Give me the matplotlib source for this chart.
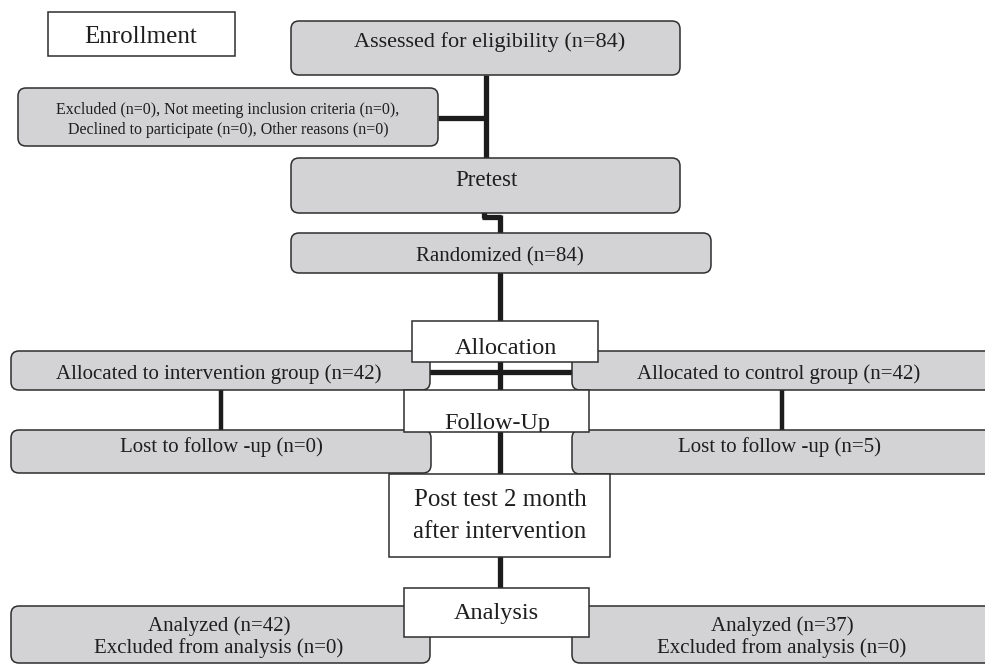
import matplotlib
matplotlib.use('Agg')
from matplotlib import pyplot as plt
from matplotlib.patches import FancyBboxPatch, Rectangle

# тексты блоков схемы
stage_labels = ['Enrollment', 'Allocation', 'Follow-Up', 'Analysis']
assessed_n = 84
randomized_n = 84
excluded_text = ['Excluded (n=0), Not meeting inclusion criteria (n=0),',
                 'Declined to participate (n=0), Other reasons (n=0)']
groups = ['intervention', 'control']
allocated_n = [42, 42]
lost_n = [0, 5]
analyzed_n = [42, 37]
excluded_analysis_n = [0, 0]
posttest_text = ['Post test 2 month', 'after intervention']

GREY = '#d3d3d5'
EDGE = '#2e2e2e'
TXT = '#1e1e1e'
LINE = '#1c1c1c'

plt.rcParams['font.family'] = ['Liberation Serif', 'DejaVu Serif']

fig = plt.figure(figsize=(9.85, 6.64), dpi=100)
ax = fig.add_axes([0, 0, 1, 1])
ax.set_xlim(0, 985)
ax.set_ylim(664, 0)
ax.axis('off')


def grey_box(x0, y0, x1, y1):
    p = FancyBboxPatch((x0, y0), x1 - x0, y1 - y0,
                       boxstyle='round,pad=0,rounding_size=8',
                       fc=GREY, ec=EDGE, lw=1.1, zorder=2)
    ax.add_patch(p)


def white_box(x0, y0, x1, y1):
    p = Rectangle((x0, y0), x1 - x0, y1 - y0, fc='white', ec=EDGE, lw=1.1, zorder=3)
    ax.add_patch(p)
    return p


def txt(x, y, s, size, z=4, **kw):
    kw.setdefault('va', 'center')
    return ax.text(x, y, s, ha='center', fontsize=size, color=TXT, zorder=z, **kw)


def vline(x, y0, y1, lw=3.8):
    ax.plot([x, x], [y0, y1], color=LINE, lw=lw, solid_capstyle='butt', zorder=1)


def hline(y, x0, x1, lw=3.8):
    ax.plot([x0, x1], [y, y], color=LINE, lw=lw, solid_capstyle='butt', zorder=1)


# соединительные линии
vline(486, 75, 160)
hline(118, 438, 486)
vline(484, 212, 218)
hline(216.5, 482, 501)
vline(500, 215, 235)
vline(500, 272, 600)
hline(372, 428, 574)
vline(221, 388, 432, lw=3.2)
vline(782, 388, 432, lw=3.2)

# enrollment
white_box(48, 12, 235, 56)
txt(141, 37, stage_labels[0], 18)

grey_box(291, 21, 680, 75)
txt(490, 42, 'Assessed for eligibility (n=%d)' % assessed_n, 16)

grey_box(18, 88, 438, 146)
txt(228, 110, excluded_text[0], 11.5)
txt(228, 130, excluded_text[1], 11.5)

grey_box(291, 158, 680, 213)
txt(486, 180, 'Pretest', 16.5)

grey_box(291, 233, 711, 273)
txt(500, 257, 'Randomized (n=%d)' % randomized_n, 15)

# allocation
grey_box(11, 351, 430, 390)
txt(219, 374, 'Allocated to %s group (n=%d)' % (groups[0], allocated_n[0]), 15)
grey_box(572, 351, 1000, 390)
txt(779, 374, 'Allocated to %s group (n=%d)' % (groups[1], allocated_n[1]), 15)
white_box(412, 321, 598, 362)
txt(506, 348, stage_labels[1], 17.5)

# follow-up
grey_box(11, 430, 431, 473)
txt(221, 447, 'Lost to follow -up (n=%d)' % lost_n[0], 15)
grey_box(572, 430, 1000, 474)
txt(779, 447, 'Lost to follow -up (n=%d)' % lost_n[1], 15)
fb = white_box(404, 390, 589, 432)
t = txt(497, 429.5, stage_labels[2], 17.5, va='baseline')
t.set_clip_on(True)
t.set_clip_path(fb)

white_box(389, 474, 610, 557)
txt(500, 500, posttest_text[0], 18)
txt(500, 532, posttest_text[1], 18)

# analysis
grey_box(11, 606, 430, 663)
txt(219, 626, 'Analyzed (n=%d)' % analyzed_n[0], 15)
txt(219, 648, 'Excluded from analysis (n=%d)' % excluded_analysis_n[0], 15)
grey_box(572, 606, 1000, 663)
txt(782, 626, 'Analyzed (n=%d)' % analyzed_n[1], 15)
txt(782, 648, 'Excluded from analysis (n=%d)' % excluded_analysis_n[1], 15)
white_box(404, 588, 589, 637)
txt(496, 614, stage_labels[3], 17.5)

fig.savefig('out.png', dpi=100)
